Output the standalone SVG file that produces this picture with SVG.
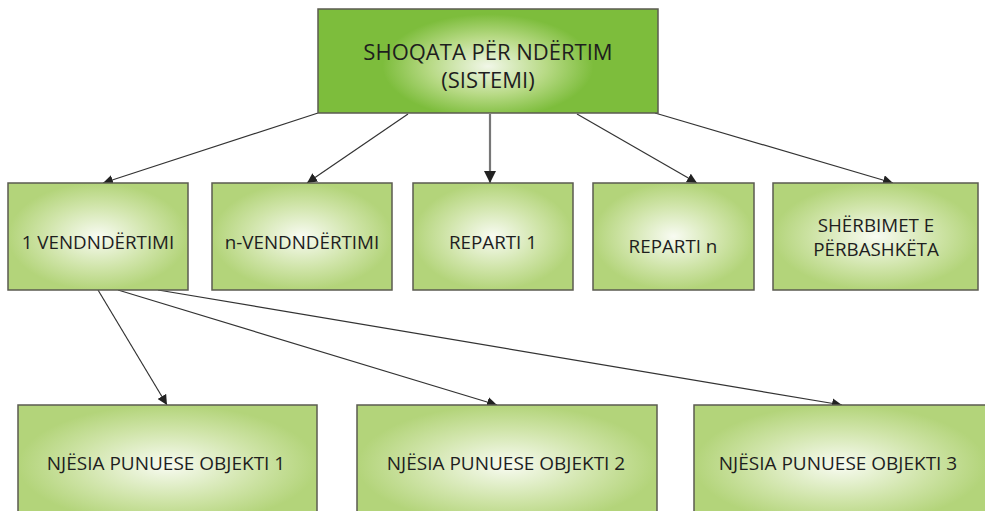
<svg xmlns="http://www.w3.org/2000/svg" width="985" height="511" viewBox="0 0 985 511">
  <defs>
    <radialGradient id="gTop" cx="0.5" cy="0.55" r="0.5" gradientTransform="translate(0.5 0.55) scale(0.62 1) translate(-0.5 -0.55)">
      <stop offset="0" stop-color="#f1f7e8"/>
      <stop offset="0.55" stop-color="#b8da86"/>
      <stop offset="1" stop-color="#7dbd3c"/>
    </radialGradient>
    <radialGradient id="gBox" cx="0.5" cy="0.5" r="0.5">
      <stop offset="0" stop-color="#f8fbf2"/>
      <stop offset="0.6" stop-color="#cfe4a8"/>
      <stop offset="1" stop-color="#b3d47a"/>
    </radialGradient>
    <marker id="ah" viewBox="0 0 10 10" refX="10" refY="5" markerWidth="10" markerHeight="10" markerUnits="userSpaceOnUse" orient="auto">
      <path d="M0,0 L10,5 L0,10 z" fill="#222"/>
    </marker>
    <marker id="ah2" viewBox="0 0 10 10" refX="10" refY="5" markerWidth="12" markerHeight="12" markerUnits="userSpaceOnUse" orient="auto">
      <path d="M0,0 L10,5 L0,10 z" fill="#222"/>
    </marker>
  </defs>
  <style>
    .box { fill: url(#gBox); stroke: #5b5b50; stroke-width: 1.5; }
    .top { fill: url(#gTop); stroke: #5b5b50; stroke-width: 1.5; }
    .lbl { font-family: "Open Sans", "Liberation Sans", sans-serif; font-size: 18.8px; fill: #1e1e1e; text-anchor: middle; }
    .lbl3 { font-family: "Open Sans", "Liberation Sans", sans-serif; font-size: 19px; fill: #1e1e1e; text-anchor: middle; }
    .big { font-family: "Open Sans", "Liberation Sans", sans-serif; font-size: 22px; fill: #1e1e1e; text-anchor: middle; }
    .c { stroke: #333; stroke-width: 1.2; fill: none; marker-end: url(#ah); }
    .cv { stroke: #777; stroke-width: 2.2; fill: none; marker-end: url(#ah2); }
  </style>
  <rect width="985" height="511" fill="#ffffff"/>

  <g id="connectors">
    <line class="c" x1="318" y1="113" x2="103" y2="183"/>
    <line class="c" x1="408" y1="114" x2="307" y2="183"/>
    <line class="cv" x1="490" y1="114" x2="490" y2="183"/>
    <line class="c" x1="577" y1="114" x2="697" y2="183"/>
    <line class="c" x1="655" y1="113" x2="893" y2="183"/>
    <line class="c" x1="98" y1="290" x2="167" y2="405"/>
    <line class="c" x1="118" y1="290" x2="497" y2="405"/>
    <line class="c" x1="158" y1="290" x2="842" y2="405"/>
  </g>

  <g id="n-top">
    <rect class="top" x="318" y="9" width="340" height="104"/>
    <text class="big" x="488" y="60">SHOQATA PËR NDËRTIM</text>
    <text class="big" x="488" y="88">(SISTEMI)</text>
  </g>
  <g id="n-vend1">
    <rect class="box" x="8" y="183" width="180" height="107"/>
    <text class="lbl" x="98" y="249">1 VENDNDËRTIMI</text>
  </g>
  <g id="n-vendn">
    <rect class="box" x="212" y="183" width="180" height="107"/>
    <text class="lbl" x="302" y="249">n-VENDNDËRTIMI</text>
  </g>
  <g id="n-rep1">
    <rect class="box" x="413" y="183" width="160" height="107"/>
    <text class="lbl" x="493" y="249">REPARTI 1</text>
  </g>
  <g id="n-repn">
    <rect class="box" x="593" y="183" width="161" height="107"/>
    <text class="lbl" x="673" y="253">REPARTI n</text>
  </g>
  <g id="n-sherb">
    <rect class="box" x="773" y="183" width="205" height="107"/>
    <text class="lbl" x="876" y="232">SHËRBIMET E</text>
    <text class="lbl" x="876" y="256">PËRBASHKËTA</text>
  </g>
  <g id="n-obj1">
    <rect class="box" x="18" y="405" width="299" height="120"/>
    <text class="lbl3" x="166" y="470">NJËSIA PUNUESE OBJEKTI 1</text>
  </g>
  <g id="n-obj2">
    <rect class="box" x="357" y="405" width="300" height="120"/>
    <text class="lbl3" x="506" y="470">NJËSIA PUNUESE OBJEKTI 2</text>
  </g>
  <g id="n-obj3">
    <rect class="box" x="694" y="405" width="292" height="120"/>
    <text class="lbl3" x="838" y="470">NJËSIA PUNUESE OBJEKTI 3</text>
  </g>
</svg>
